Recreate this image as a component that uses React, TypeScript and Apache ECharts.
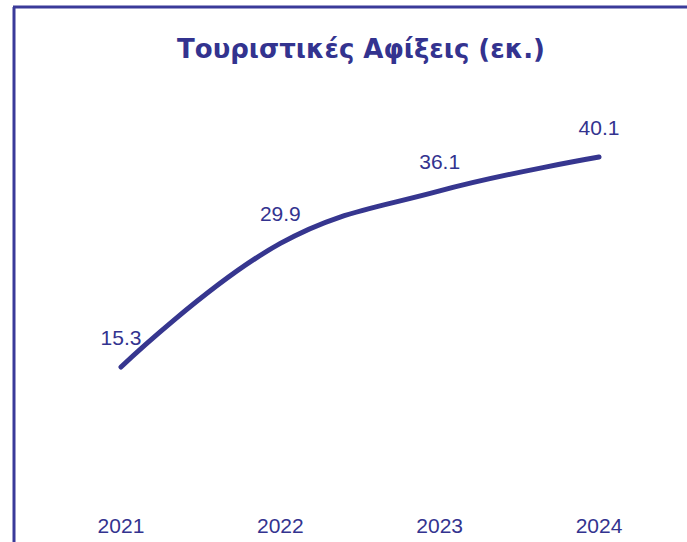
import React, { useEffect, useRef } from "react";
import * as echarts from "echarts";

const categories = ["2021", "2022", "2023", "2024"];
const arrivals = [15.3, 29.9, 36.1, 40.1];
const titleText = "Τουριστικές Αφίξεις (εκ.)";

const COLOR = "#36368f";
const TEXT = "#33338f";

export default function App() {
  const ref = useRef<HTMLDivElement>(null);
  useEffect(() => {
    if (!ref.current) return;
    const chart = echarts.init(ref.current, undefined, { renderer: "svg" });
    chart.setOption({
      animation: false,
      backgroundColor: "#ffffff",
      title: {
        text: titleText,
        left: 356,
        textAlign: "center",
        top: 31,
        textStyle: {
          fontFamily: "DejaVu Sans",
          fontWeight: "bold",
          fontSize: 26,
          color: TEXT,
        },
      },
      graphic: [
        { type: "line", shape: { x1: 14, y1: 7, x2: 14, y2: 542 }, style: { stroke: "#3a3a99", lineWidth: 3 } },
        { type: "line", shape: { x1: 13, y1: 7, x2: 687, y2: 7 }, style: { stroke: "#3a3a99", lineWidth: 3 } },
      ],
      grid: { left: 41.3, right: 8.3, top: 73.2, bottom: 45.4 },
      xAxis: {
        type: "category",
        data: categories,
        boundaryGap: true,
        axisLine: { show: false },
        axisTick: { show: false },
        axisLabel: {
          margin: 18,
          fontFamily: "Liberation Sans",
          fontSize: 21,
          color: TEXT,
        },
      },
      yAxis: {
        type: "value",
        min: 0,
        max: 50,
        show: false,
        splitLine: { show: false },
      },
      series: [
        {
          type: "line",
          data: arrivals,
          smooth: 0.4,
          symbol: "circle",
          symbolSize: 0,
          showSymbol: true,
          lineStyle: { color: COLOR, width: 5, cap: "round" },
          itemStyle: { color: COLOR },
          label: {
            show: true,
            position: "top",
            distance: 19,
            fontFamily: "Liberation Sans",
            fontSize: 21,
            color: TEXT,
          },
        },
      ],
    });
    return () => chart.dispose();
  }, []);
  return <div ref={ref} style={{ position: "absolute", left: 0, top: 0, width: 687, height: 542 }} />;
}
